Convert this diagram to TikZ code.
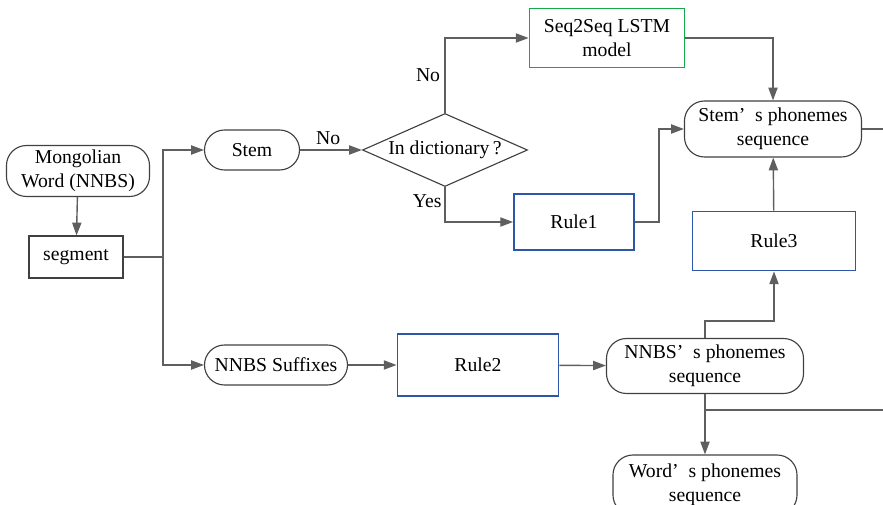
\documentclass[tikz,border=0pt]{standalone}
\usepackage{fontspec}
\setmainfont{LiberationSerif}[Extension=.ttf, UprightFont=*-Regular, BoldFont=*-Bold, ItalicFont=*-Italic, BoldItalicFont=*-BoldItalic]
\usetikzlibrary{shapes.geometric,arrows.meta}
\definecolor{ruleblue}{RGB}{45,85,170}
\definecolor{lstmgreen}{RGB}{20,170,75}
\definecolor{linegray}{RGB}{95,95,95}
\tikzset{
  every node/.style={font=\fontsize{14}{17}\selectfont, align=center, inner sep=0pt},
  termbox/.style={draw=black!75, line width=0.8pt, rounded corners=0.5cm},
  plainbox/.style={draw=black!75, line width=0.8pt},
  rulebox/.style={draw=ruleblue, line width=1.3pt},
  lstmbox/.style={draw=lstmgreen, line width=1.3pt},
  link/.style={draw=linegray, line width=1pt},
  arr/.style={link, -{Triangle[length=3.2mm,width=2.3mm]}}
}
\begin{document}
\begin{tikzpicture}[x=0.025cm,y=-0.025cm]
\useasboundingbox (0,0) rectangle (883,505);
\clip (0,0) rectangle (883,505);

% Left column
\node[termbox, minimum width=3.575cm, minimum height=1.275cm] (word) at (78,171) {Mongolian\\Word (NNBS)};
\node[plainbox, minimum width=2.35cm, minimum height=1.05cm] (seg) at (76,257) {segment};
\coordinate (split) at (163,257);

% Stem branch
\node[termbox, minimum width=2.375cm, minimum height=1cm] (stem) at (252,150) {Stem};
\node[diamond, draw=black!75, line width=0.8pt, aspect=2.26, minimum width=4.125cm, minimum height=1.825cm] (dict) at (445,150) {In dictionary\thinspace?};
\node[lstmbox, minimum width=3.875cm, minimum height=1.475cm] (lstm) at (607,38) {Seq2Seq LSTM\\model};
\node[rulebox, minimum width=3cm, minimum height=1.4cm] (rule1) at (574,222) {Rule1};
\node[termbox, minimum width=4.425cm, minimum height=1.4cm] (stemph) at (773,129) {Stem’\enspace s phonemes\\sequence};
\node[rulebox, minimum width=4.075cm, minimum height=1.475cm] (rule3) at (774,241) {Rule3};

% Suffix branch
\node[termbox, minimum width=3.575cm, minimum height=1cm] (suffix) at (276,365) {NNBS Suffixes};
\node[rulebox, minimum width=4.025cm, minimum height=1.55cm] (rule2) at (478,365) {Rule2};
\node[termbox, minimum width=4.925cm, minimum height=1.375cm] (nnbsph) at (705,366) {NNBS’\enspace s phonemes\\sequence};
\node[termbox, minimum width=4.6cm, minimum height=1.5cm] (wordph) at (705,485) {Word’\enspace s phonemes\\sequence};

% Loose ends running off the right side
\coordinate (outA) at (883,129);
\coordinate (split2) at (705,410);
\coordinate (outB) at (883,410);

% Connectors
\draw[arr] (word) -- (seg);
\draw[link] (seg.east) -- (split);
\draw[arr] (split) |- (stem.west);
\draw[arr] (split) |- (suffix.west);
\draw[arr] (stem) -- node[above=3pt, xshift=-2pt] (lblno) {No} (dict);
\draw[arr] (dict.north) |- node[pos=0.25, left=3pt] (lblnotop) {No} (lstm.west);
\draw[arr] (dict.south) |- node[pos=0.2, left=2pt] (lblyes) {Yes} (rule1.west);
\draw[arr] (lstm.east) -| (stemph.north);
\draw[arr] (rule1.east) -- ++(24,0) |- (stemph.west);
\draw[arr] (rule3) -- (stemph);
\draw[link] (stemph.east) -- (outA);
\draw[arr] (suffix) -- (rule2);
\draw[arr] (rule2) -- (nnbsph);
\draw[arr] (nnbsph.north) -- ++(0,-17) -| (rule3.south);
\draw[arr] (nnbsph) -- (wordph);
\draw[link] (split2) -- (outB);
\end{tikzpicture}
\end{document}
